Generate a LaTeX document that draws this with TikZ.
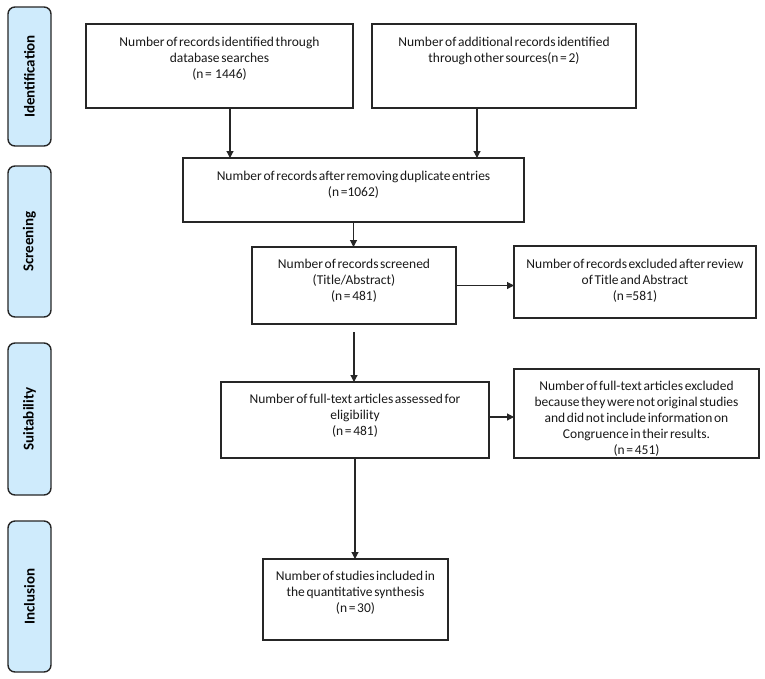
\documentclass[tikz,border=0pt]{standalone}
\usepackage{fontspec}
\setmainfont{Carlito}[WordSpace=0.55]
\usetikzlibrary{arrows.meta}
\definecolor{labfill}{RGB}{207,235,252}
\definecolor{ink}{RGB}{38,38,38}
\newcommand\flowbox[7]{%
  \node[box,minimum width=#4pt,minimum height=#5pt] (#1) at (#2,#3) {};
  \node[txt] (#1t) at ([yshift=-#6pt]#1.north) {#7};
}
\begin{document}
\begin{tikzpicture}[x=1pt,y=-1pt,
  box/.style={draw=ink,line width=1.2pt,inner sep=0pt,outer sep=0pt,anchor=north west},
  txt/.style={align=center,inner sep=0pt,anchor=north,font=\fontsize{13.5}{16}\selectfont,text=black!90},
  lab/.style={draw=black!85,line width=1.4pt,fill=labfill,rounded corners=7pt,rotate=90,
    minimum width=#1,minimum height=43pt,inner sep=0pt,font=\bfseries\fontsize{15}{17}\selectfont},
  arr/.style={draw=ink,line width=1.1pt,-{Triangle[length=7pt,width=7pt]}}]
\fill[white] (0,0) rectangle (765,678);
\useasboundingbox (0,0) rectangle (765,678);

% phase labels
\node[lab=139pt] (lid) at (29.5,76.5) {Identification};
\node[lab=151pt] (lsc) at (29.5,241.5) {Screening};
\node[lab=152pt] (lsu) at (29.5,419) {Suitability};
\node[lab=151pt] (lin) at (29.5,596.5) {Inclusion};

% boxes
\flowbox{b1}{86}{24}{267}{84}{12.5}{Number of records identified through\\ database searches\\ (n =\ \ 1446)}
\flowbox{b2}{372}{24}{264}{84}{12.5}{Number of additional records identified\\ through other sources(n = 2)}
\flowbox{b3}{183}{158}{341}{64}{12.5}{Number of records after removing duplicate entries\\ (n =1062)}
\flowbox{b4}{252}{247}{204}{77}{11.5}{Number of records screened\\ (Title/Abstract)\\ (n = 481)}
\flowbox{b5}{514}{246}{242}{72}{12.5}{Number of records excluded after review\\ of Title and Abstract\\ (n =581)}
\flowbox{b6}{221}{382}{268}{76}{11.5}{Number of full-text articles assessed for\\ eligibility\\ (n = 481)}
\flowbox{b7}{514}{369}{245}{89}{11.5}{Number of full-text articles excluded\\ because they were not original studies\\ and did not include information on\\ Congruence in their results.\\ (n = 451)}
\flowbox{b8}{263}{559}{185}{81}{11.5}{Number of studies included in\\ the quantitative synthesis\\ (n = 30)}

% connectors
\coordinate (s1) at ([xshift=144pt]b1.south west);
\coordinate (s2) at ([xshift=105pt]b2.south west);
\coordinate (g4) at ([yshift=-8pt]b4.south);
\coordinate (e6) at ([yshift=3pt]b6.east);
\draw[arr] (s1) -- (s1 |- b3.north);
\draw[arr] (s2) -- (s2 |- b3.north);
\draw[arr] (b3.south) -- (b3.south |- b4.north);
\draw[arr] (b4.east) -- (b4.east -| b5.west);
\draw[arr] (g4) -- (g4 |- b6.north);
\draw[arr] (e6) -- (e6 -| b7.west);
\draw[arr] (b6.south) -- (b6.south |- b8.north);
\end{tikzpicture}
\end{document}
